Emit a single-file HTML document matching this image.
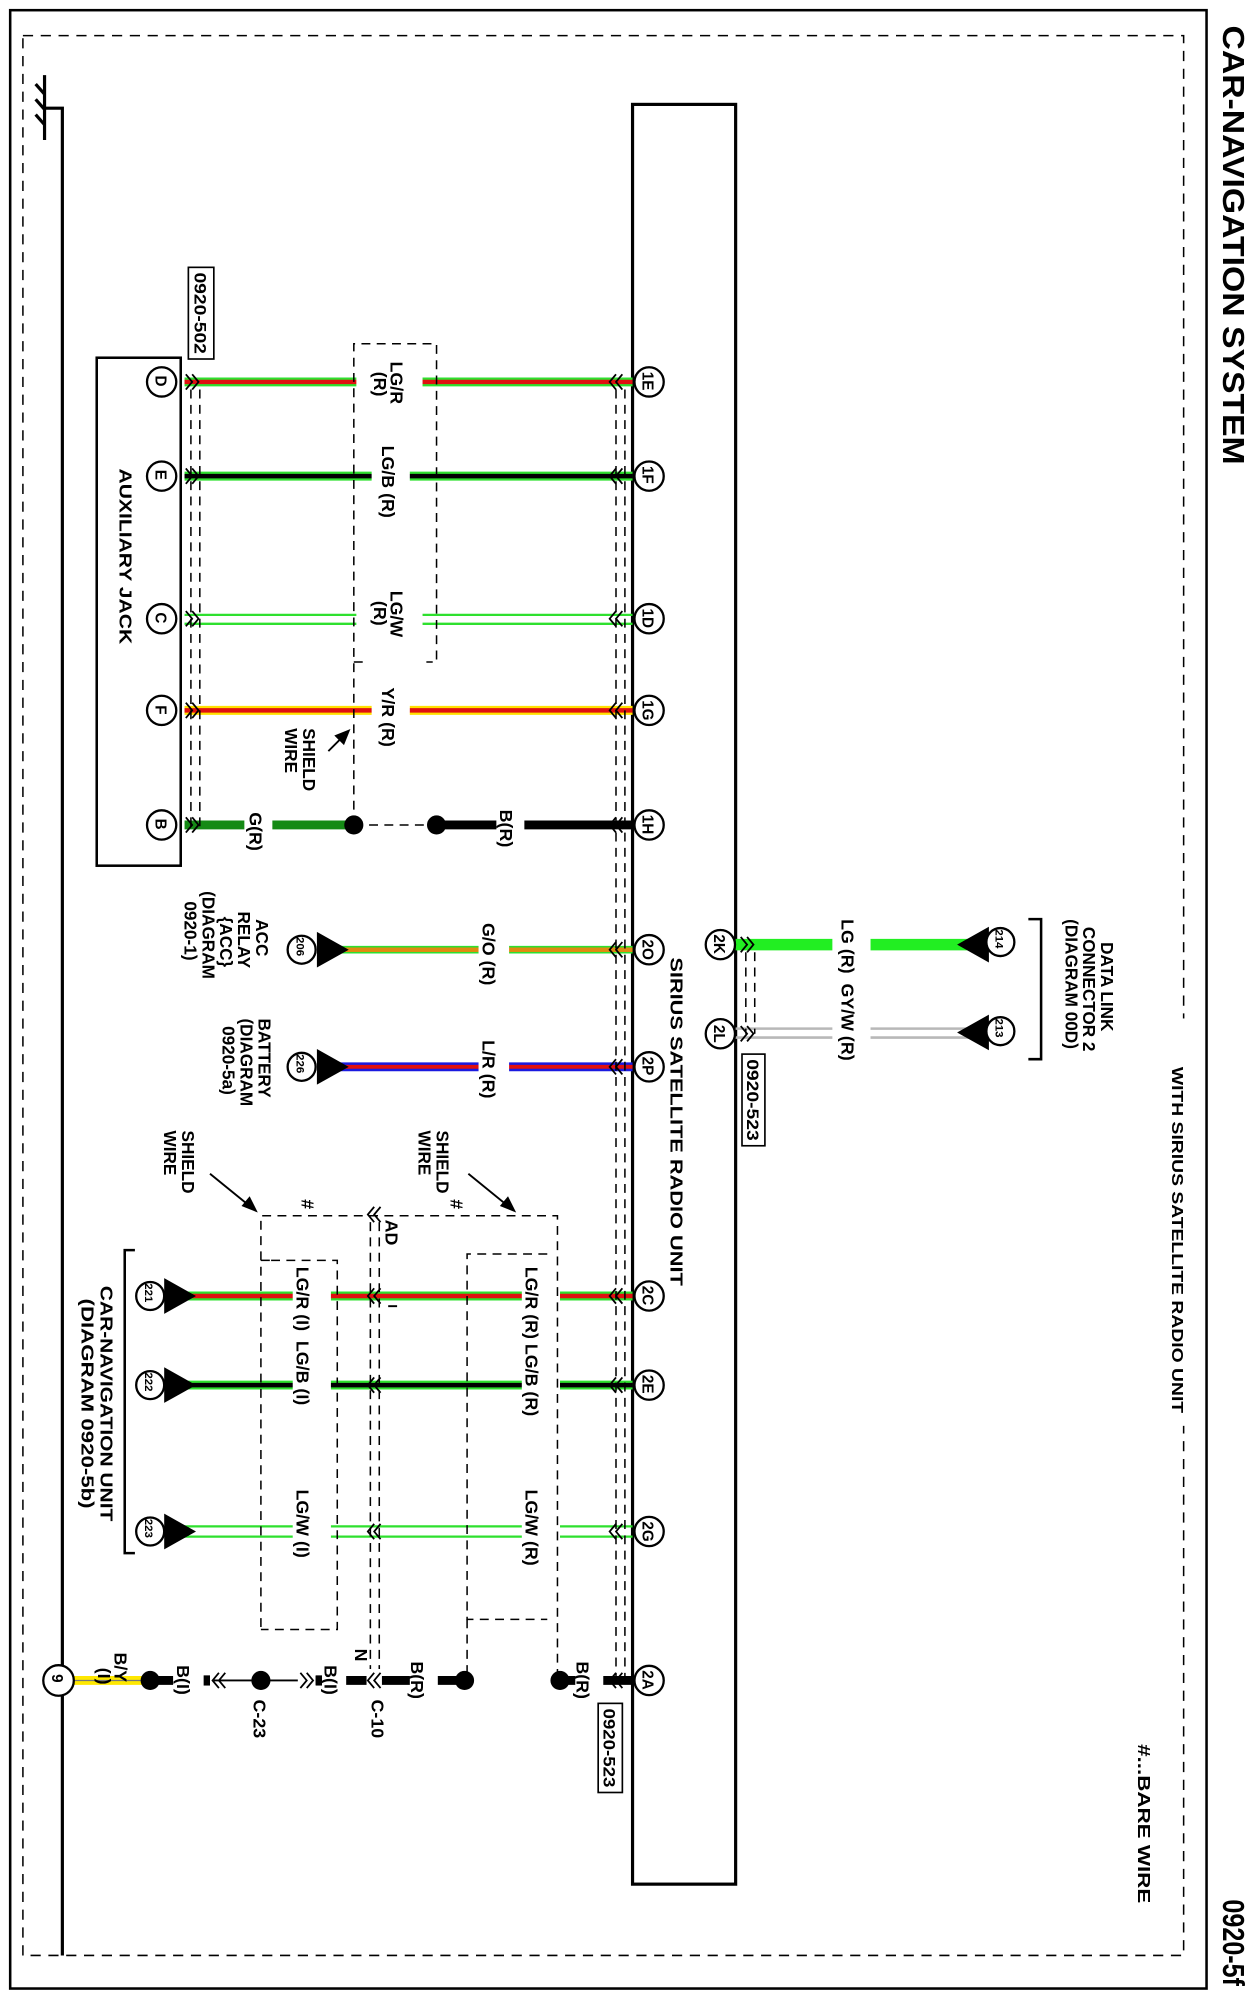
<!DOCTYPE html>
<html><head><meta charset="utf-8"><style>
html,body{margin:0;padding:0;background:#fff}
svg{display:block}
text{font-family:"Liberation Sans Narrow","Liberation Sans",sans-serif;font-weight:bold;fill:#000}
</style></head><body>
<svg width="1260" height="2000" viewBox="0 0 990 1571" preserveAspectRatio="none" xmlns="http://www.w3.org/2000/svg">
<rect x="0" y="0" width="990" height="1571" fill="#fff"/>
<rect x="8" y="8" width="940" height="1554" fill="none" stroke="#000" stroke-width="2"/>
<rect x="18" y="28" width="912" height="1508" fill="none" stroke="#000" stroke-width="1.2" stroke-dasharray="8,6"/>
<rect x="925" y="800" width="10" height="320" fill="#fff"/>
<g stroke="#000" stroke-width="2.5" fill="none">
<line x1="35" y1="59" x2="35" y2="110"/>
<line x1="28" y1="66" x2="35" y2="74"/>
<line x1="28" y1="78" x2="35" y2="86"/>
<line x1="28" y1="90" x2="35" y2="98"/>
<polyline points="35,85 49,85 49,1536"/>
</g>
<rect x="497" y="82" width="81" height="1398" fill="#fff" stroke="#000" stroke-width="2.5"/>
<rect x="76" y="281" width="66" height="399" fill="#fff" stroke="#000" stroke-width="2"/>
<polyline points="808,722 818,722 818,832 808,832" fill="none" stroke="#000" stroke-width="2"/>
<polyline points="106,982 98,982 98,1220 106,1220" fill="none" stroke="#000" stroke-width="2"/>

<g fill="none">
<g><line x1="145" y1="300" x2="497" y2="300" stroke="#2ee02e" stroke-width="7"/><line x1="145" y1="300" x2="497" y2="300" stroke="#e01010" stroke-width="3.5"/></g>
<g><line x1="145" y1="374" x2="497" y2="374" stroke="#2ee02e" stroke-width="7"/><line x1="145" y1="374" x2="497" y2="374" stroke="#000" stroke-width="3.5"/></g>
<g stroke="#2ee02e" stroke-width="1.8"><line x1="145" y1="483" x2="497" y2="483"/><line x1="145" y1="490" x2="497" y2="490"/></g>
<g><line x1="145" y1="558" x2="497" y2="558" stroke="#ffe000" stroke-width="7"/><line x1="145" y1="558" x2="497" y2="558" stroke="#e01010" stroke-width="3.5"/></g>
<line x1="145" y1="648" x2="278" y2="648" stroke="#158a15" stroke-width="7"/>
<line x1="343" y1="648" x2="497" y2="648" stroke="#000" stroke-width="7"/>
<g><line x1="262" y1="746" x2="497" y2="746" stroke="#2ee02e" stroke-width="6"/><line x1="262" y1="746" x2="497" y2="746" stroke="#e08a10" stroke-width="3.5"/></g>
<g><line x1="262" y1="838" x2="497" y2="838" stroke="#1a1ae0" stroke-width="7"/><line x1="262" y1="838" x2="497" y2="838" stroke="#e01010" stroke-width="3"/></g>
<line x1="578" y1="742" x2="770" y2="742" stroke="#22ee22" stroke-width="9"/>
<g stroke="#b8b8b8" stroke-width="2"><line x1="578" y1="808" x2="770" y2="808"/><line x1="578" y1="815" x2="770" y2="815"/></g>
<g><line x1="140" y1="1018" x2="497" y2="1018" stroke="#2ee02e" stroke-width="7"/><line x1="140" y1="1018" x2="497" y2="1018" stroke="#e01010" stroke-width="3.5"/></g>
<g><line x1="140" y1="1088" x2="497" y2="1088" stroke="#2ee02e" stroke-width="7"/><line x1="140" y1="1088" x2="497" y2="1088" stroke="#000" stroke-width="3.5"/></g>
<g stroke="#2ee02e" stroke-width="1.8"><line x1="140" y1="1199" x2="497" y2="1199"/><line x1="140" y1="1207" x2="497" y2="1207"/></g>
<line x1="57" y1="1320" x2="115" y2="1320" stroke="#ffe800" stroke-width="7"/>
<line x1="57" y1="1320" x2="115" y2="1320" stroke="#777" stroke-width="1"/>
<line x1="118" y1="1320" x2="165" y2="1320" stroke="#000" stroke-width="7"/>
<line x1="165" y1="1320" x2="245" y2="1320" stroke="#000" stroke-width="1.5"/>
<line x1="245" y1="1320" x2="292" y2="1320" stroke="#000" stroke-width="7"/>
<line x1="300" y1="1320" x2="365" y2="1320" stroke="#000" stroke-width="7"/>
<line x1="440" y1="1320" x2="497" y2="1320" stroke="#000" stroke-width="7"/>
</g>

<g fill="#fff">
<rect x="280" y="282" width="52" height="40"/>
<rect x="292" y="348" width="30" height="70"/>
<rect x="280" y="462" width="52" height="42"/>
<rect x="292" y="532" width="30" height="65"/>
<rect x="192" y="630" width="22" height="40"/>
<rect x="390" y="630" width="22" height="40"/>
<rect x="376" y="722" width="24" height="70"/>
<rect x="376" y="814" width="24" height="60"/>
<rect x="654" y="722" width="30" height="140"/>
<rect x="230" y="992" width="30" height="140"/>
<rect x="410" y="992" width="30" height="148"/>
<rect x="230" y="1165" width="30" height="75"/>
<rect x="410" y="1165" width="30" height="80"/>
<rect x="136" y="1305" width="22" height="30"/>
<rect x="252" y="1305" width="20" height="30"/>
<rect x="322" y="1305" width="22" height="30"/>
<rect x="452" y="1305" width="22" height="30"/>
</g>

<g stroke="#000" stroke-width="1.2" stroke-dasharray="7,5" fill="none">
<line x1="150" y1="306" x2="150" y2="650"/><line x1="157" y1="306" x2="157" y2="650"/>
<line x1="484" y1="306" x2="484" y2="1322"/><line x1="491" y1="306" x2="491" y2="1322"/>
<line x1="586" y1="748" x2="586" y2="812"/><line x1="593" y1="748" x2="593" y2="812"/>
<line x1="291" y1="960" x2="291" y2="1320"/><line x1="298" y1="960" x2="298" y2="1320"/>
<polyline points="278,648 278,270 343,270 343,520 335,520"/>
<line x1="278" y1="520" x2="286" y2="520"/>
<line x1="278" y1="648" x2="343" y2="648"/>
<polyline points="205,1278 205,955 438,955 438,1320"/>
<polyline points="213,990 265,990 265,1280 205,1280"/>
<line x1="205" y1="990" x2="213" y2="990"/>
<polyline points="430,985 367,985 367,1272 430,1272"/>
<line x1="367" y1="1272" x2="367" y2="1320"/>
</g>

<g fill="#fff"><rect x="152" y="1311" width="16" height="18"/><rect x="288" y="1311" width="12" height="18"/><rect x="234" y="1311" width="14" height="18"/></g>
<g fill="#000"><rect x="160" y="1316" width="5" height="8"/><rect x="248" y="1316" width="5" height="8"/></g>
<g fill="none" stroke="#000" stroke-width="1.4">
<path d="M146,294 l5,6 l-5,6 M151,294 l5,6 l-5,6"/>
<path d="M146,368 l5,6 l-5,6 M151,368 l5,6 l-5,6"/>
<path d="M146,480 l5,6 l-5,6 M151,480 l5,6 l-5,6"/>
<path d="M146,552 l5,6 l-5,6 M151,552 l5,6 l-5,6"/>
<path d="M146,642 l5,6 l-5,6 M151,642 l5,6 l-5,6"/>
<path d="M582,736 l5,6 l-5,6 M587,736 l5,6 l-5,6"/>
<path d="M582,806 l5,6 l-5,6 M587,806 l5,6 l-5,6"/>
<path d="M236,1314 l5,6 l-5,6 M241,1314 l5,6 l-5,6"/>
<path d="M489,294 l-5,6 l5,6 M484,294 l-5,6 l5,6"/>
<path d="M489,368 l-5,6 l5,6 M484,368 l-5,6 l5,6"/>
<path d="M489,480 l-5,6 l5,6 M484,480 l-5,6 l5,6"/>
<path d="M489,552 l-5,6 l5,6 M484,552 l-5,6 l5,6"/>
<path d="M489,642 l-5,6 l5,6 M484,642 l-5,6 l5,6"/>
<path d="M489,740 l-5,6 l5,6 M484,740 l-5,6 l5,6"/>
<path d="M489,832 l-5,6 l5,6 M484,832 l-5,6 l5,6"/>
<path d="M489,1012 l-5,6 l5,6 M484,1012 l-5,6 l5,6"/>
<path d="M489,1082 l-5,6 l5,6 M484,1082 l-5,6 l5,6"/>
<path d="M489,1197 l-5,6 l5,6 M484,1197 l-5,6 l5,6"/>
<path d="M489,1314 l-5,6 l5,6 M484,1314 l-5,6 l5,6"/>
<path d="M299,948 l-5,6 l5,6 M294,948 l-5,6 l5,6"/>
<path d="M299,1012 l-5,6 l5,6 M294,1012 l-5,6 l5,6"/>
<path d="M299,1082 l-5,6 l5,6 M294,1082 l-5,6 l5,6"/>
<path d="M299,1197 l-5,6 l5,6 M294,1197 l-5,6 l5,6"/>
<path d="M299,1314 l-5,6 l5,6 M294,1314 l-5,6 l5,6"/>
<path d="M177,1314 l-5,6 l5,6 M172,1314 l-5,6 l5,6"/>
</g>

<g fill="#000">
<circle cx="278" cy="648" r="7.5"/><circle cx="343" cy="648" r="7.5"/>
<circle cx="118" cy="1320" r="7.5"/><circle cx="205" cy="1320" r="7.5"/>
<circle cx="365" cy="1320" r="7.5"/><circle cx="440" cy="1320" r="7.5"/>
<polygon points="249,732 274,746 249,760"/>
<polygon points="249,824 274,838 249,852"/>
<polygon points="129,1004 154,1018 129,1032"/>
<polygon points="129,1074 154,1088 129,1102"/>
<polygon points="129,1189 154,1203 129,1217"/>
<polygon points="777,728 752,742 777,756"/>
<polygon points="777,797 752,811 777,825"/>
</g>
<g stroke="#000" stroke-width="1.5" fill="#000">
<line x1="258" y1="590" x2="271" y2="577"/><polygon points="274,574 264,578 270,584"/>
<line x1="165" y1="922" x2="197" y2="948"/><polygon points="201,951 191,947 196,941"/>
<line x1="368" y1="922" x2="400" y2="948"/><polygon points="404,951 394,947 399,941"/>
</g>

<g fill="#fff" stroke="#000" stroke-width="1.8">
<circle cx="127" cy="300" r="11.5"/><circle cx="127" cy="374" r="11.5"/><circle cx="127" cy="486" r="11.5"/><circle cx="127" cy="558" r="11.5"/><circle cx="127" cy="648" r="11.5"/>
<circle cx="510" cy="300" r="11.5"/><circle cx="510" cy="374" r="11.5"/><circle cx="510" cy="486" r="11.5"/><circle cx="510" cy="558" r="11.5"/><circle cx="510" cy="648" r="11.5"/>
<circle cx="510" cy="746" r="11.5"/><circle cx="510" cy="838" r="11.5"/><circle cx="510" cy="1018" r="11.5"/><circle cx="510" cy="1088" r="11.5"/><circle cx="510" cy="1203" r="11.5"/><circle cx="510" cy="1320" r="11.5"/>
<circle cx="566" cy="742" r="11.5"/><circle cx="566" cy="812" r="11.5"/>
<circle cx="237" cy="746" r="11"/><circle cx="237" cy="838" r="11"/>
<circle cx="118" cy="1018" r="11"/><circle cx="118" cy="1088" r="11"/><circle cx="118" cy="1203" r="11"/>
<circle cx="786" cy="740" r="11"/><circle cx="786" cy="810" r="11"/>
<circle cx="46" cy="1320" r="12"/>
</g>
<g font-size="12">
<text transform="translate(122,295) rotate(90)">D</text>
<text transform="translate(122,369) rotate(90)">E</text>
<text transform="translate(122,481) rotate(90)">C</text>
<text transform="translate(122,554) rotate(90)">F</text>
<text transform="translate(122,643) rotate(90)">B</text>
<text transform="translate(505,292) rotate(90)">1E</text>
<text transform="translate(505,366) rotate(90)">1F</text>
<text transform="translate(505,478) rotate(90)">1D</text>
<text transform="translate(505,550) rotate(90)">1G</text>
<text transform="translate(505,640) rotate(90)">1H</text>
<text transform="translate(505,738) rotate(90)">2O</text>
<text transform="translate(505,830) rotate(90)">2P</text>
<text transform="translate(505,1010) rotate(90)">2C</text>
<text transform="translate(505,1080) rotate(90)">2E</text>
<text transform="translate(505,1195) rotate(90)">2G</text>
<text transform="translate(505,1312) rotate(90)">2A</text>
<text transform="translate(561,734) rotate(90)">2K</text>
<text transform="translate(561,805) rotate(90)">2L</text>
<text transform="translate(41,1315) rotate(90)" font-size="12">9</text>
</g>
<g font-size="9">
<text transform="translate(233,736) rotate(90)">206</text>
<text transform="translate(233,828) rotate(90)">226</text>
<text transform="translate(114,1008) rotate(90)">221</text>
<text transform="translate(114,1078) rotate(90)">222</text>
<text transform="translate(114,1193) rotate(90)">223</text>
<text transform="translate(782,730) rotate(90)">214</text>
<text transform="translate(782,800) rotate(90)">213</text>
</g>

<g fill="#fff" stroke="#000" stroke-width="1.3">
<rect x="148" y="210" width="20" height="72"/>
<rect x="583" y="828" width="18" height="72"/>
<rect x="470" y="1338" width="19" height="70"/>
</g>
<g font-size="13">
<text transform="translate(153,214) rotate(90)" textLength="64" lengthAdjust="spacingAndGlyphs">0920-502</text>
<text transform="translate(587,832) rotate(90)" textLength="64" lengthAdjust="spacingAndGlyphs">0920-523</text>
<text transform="translate(474,1342) rotate(90)" textLength="62" lengthAdjust="spacingAndGlyphs">0920-523</text>
</g>

<g font-size="14">
<text transform="translate(307,284) rotate(90)">LG/R</text>
<text transform="translate(294,292) rotate(90)">(R)</text>
<text transform="translate(300,350) rotate(90)">LG/B (R)</text>
<text transform="translate(307,464) rotate(90)">LG/W</text>
<text transform="translate(294,472) rotate(90)">(R)</text>
<text transform="translate(300,540) rotate(90)">Y/R (R)</text>
<text transform="translate(196,638) rotate(90)">G(R)</text>
<text transform="translate(393,636) rotate(90)">B(R)</text>
<text transform="translate(379,725) rotate(90)">G/O (R)</text>
<text transform="translate(379,817) rotate(90)">L/R (R)</text>
<text transform="translate(661,722) rotate(90)" xml:space="preserve">LG (R)  GY/W (R)</text>
<text transform="translate(413,995) rotate(90)">LG/R (R) LG/B (R)</text>
<text transform="translate(413,1170) rotate(90)">LG/W (R)</text>
<text transform="translate(233,995) rotate(90)" xml:space="preserve">LG/R (I)  LG/B (I)</text>
<text transform="translate(233,1170) rotate(90)">LG/W (I)</text>
<text transform="translate(90,1298) rotate(90)">B/Y</text>
<text transform="translate(77,1310) rotate(90)">(I)</text>
<text transform="translate(139,1308) rotate(90)">B(I)</text>
<text transform="translate(255,1308) rotate(90)">B(I)</text>
<text transform="translate(323,1305) rotate(90)">B(R)</text>
<text transform="translate(453,1305) rotate(90)">B(R)</text>
<text transform="translate(199,1335) rotate(90)">C-23</text>
<text transform="translate(292,1335) rotate(90)">C-10</text>
<text transform="translate(279,1295) rotate(90)">N</text>
<text transform="translate(303,958) rotate(90)">AD</text>
<text transform="translate(237,942) rotate(90)">#</text>
<text transform="translate(354,942) rotate(90)">#</text>
</g>
<line x1="305" y1="1026" x2="312" y2="1026" stroke="#000" stroke-width="1.5"/>
<g font-size="13.5">
<text transform="translate(238,572) rotate(90)">SHIELD</text>
<text transform="translate(224,572) rotate(90)">WIRE</text>
<text transform="translate(143,888) rotate(90)">SHIELD</text>
<text transform="translate(129,888) rotate(90)">WIRE</text>
<text transform="translate(343,888) rotate(90)">SHIELD</text>
<text transform="translate(329,888) rotate(90)">WIRE</text>
<text transform="translate(94,368) rotate(90)" textLength="138" lengthAdjust="spacingAndGlyphs">AUXILIARY JACK</text>
<text transform="translate(201,722) rotate(90)">ACC</text>
<text transform="translate(187,716) rotate(90)">RELAY</text>
<text transform="translate(173,720) rotate(90)">{ACC}</text>
<text transform="translate(159,700) rotate(90)">(DIAGRAM</text>
<text transform="translate(145,708) rotate(90)">0920-1)</text>
<text transform="translate(203,800) rotate(90)">BATTERY</text>
<text transform="translate(189,800) rotate(90)">(DIAGRAM</text>
<text transform="translate(175,806) rotate(90)">0920-5a)</text>
<text transform="translate(865,740) rotate(90)">DATA LINK</text>
<text transform="translate(851,728) rotate(90)">CONNECTOR 2</text>
<text transform="translate(837,722) rotate(90)">(DIAGRAM 00D)</text>
<text transform="translate(79,1010) rotate(90)" textLength="185" lengthAdjust="spacingAndGlyphs">CAR-NAVIGATION UNIT</text>
<text transform="translate(64,1020) rotate(90)" textLength="165" lengthAdjust="spacingAndGlyphs">(DIAGRAM 0920-5b)</text>
<text transform="translate(527,752) rotate(90)" textLength="258" lengthAdjust="spacingAndGlyphs">SIRIUS SATELLITE RADIO UNIT</text>
<text transform="translate(921,838) rotate(90)" font-size="12.5" textLength="272" lengthAdjust="spacingAndGlyphs">WITH SIRIUS SATELLITE RADIO UNIT</text>
<text transform="translate(894,1370) rotate(90)" textLength="125" lengthAdjust="spacingAndGlyphs">#...BARE WIRE</text>
</g>
<g font-size="24">
<text transform="translate(961,20) rotate(90)" textLength="345" lengthAdjust="spacingAndGlyphs">CAR-NAVIGATION SYSTEM</text>
<text transform="translate(961,1492) rotate(90)" textLength="68" lengthAdjust="spacingAndGlyphs">0920-5f</text>
</g>
</svg>
</body></html>
